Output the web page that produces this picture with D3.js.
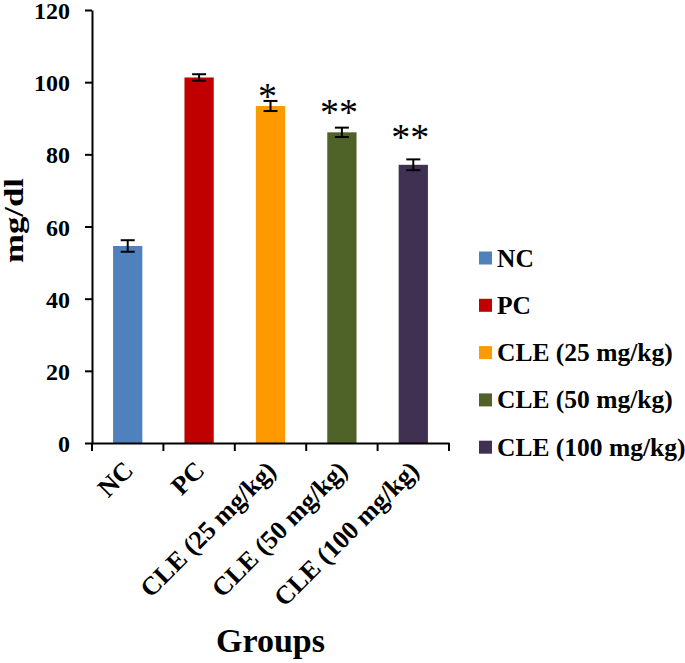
<!DOCTYPE html>
<html><head><meta charset="utf-8">
<script src="https://cdn.jsdelivr.net/npm/d3@7"></script>
<style>
body{margin:0;background:#fff;}
text{font-family:"Liberation Serif","Times New Roman",serif;font-weight:bold;fill:#000;}
</style></head>
<body><svg id="c" width="685" height="663"></svg>
<script>
const categories = ["NC","PC","CLE (25 mg/kg)","CLE (50 mg/kg)","CLE (100 mg/kg)"];
const values = [54.6, 101.3, 93.4, 86.1, 77.1];
const errors = [1.6, 0.9, 1.4, 1.3, 1.5];
const colors = ["#4f81bd","#c00000","#ff9900","#4f6228","#403152"];
const stars = ["","","*","**","**"];
const starValues = [null,null,97.0,92.6,85.6];
const yTicks = [0,20,40,60,80,100,120];

(function(){
const svg = d3.select("#c");
const mLeft=92, mRight=449, mTop=10, mBottom=443;
const x = d3.scaleBand().domain(categories).range([mLeft,mRight]).paddingInner(0.59).paddingOuter(0.295);
const y = d3.scaleLinear().domain([0,120]).range([mBottom,mTop]);

// bars
svg.selectAll("rect.bar").data(categories).join("rect").attr("class","bar")
  .attr("x",d=>x(d)).attr("width",x.bandwidth())
  .attr("y",(d,i)=>y(values[i])).attr("height",(d,i)=>y(0)-y(values[i]))
  .attr("fill",(d,i)=>colors[i]);

// error bars
const capW=14;
categories.forEach((c,i)=>{
  const cx=x(c)+x.bandwidth()/2;
  const g=svg.append("g").attr("stroke","#000").attr("stroke-width",2);
  g.append("line").attr("x1",cx).attr("x2",cx).attr("y1",y(values[i]-errors[i])).attr("y2",y(values[i]+errors[i]));
  g.append("line").attr("x1",cx-capW/2).attr("x2",cx+capW/2).attr("y1",y(values[i]+errors[i])).attr("y2",y(values[i]+errors[i]));
  g.append("line").attr("x1",cx-capW/2).attr("x2",cx+capW/2).attr("y1",y(values[i]-errors[i])).attr("y2",y(values[i]-errors[i]));
  if(stars[i]){
    svg.append("text").attr("x",cx-3).attr("y",y(starValues[i])).attr("dy","0.42em")
      .attr("text-anchor","middle").style("font-weight","normal").style("font-size","38px")
      .text(stars[i]);
  }
});

// y axis
const ya = svg.append("g").attr("transform",`translate(${mLeft},0)`)
  .call(d3.axisLeft(y).tickValues(yTicks).tickSize(7).tickSizeOuter(0).tickPadding(15));
ya.select(".domain").attr("stroke","#000").attr("stroke-width",2);
ya.selectAll(".tick line").attr("stroke","#000").attr("stroke-width",2);
ya.selectAll(".tick text").attr("dy","0.36em").style("font-size","24px").style("font-family","Liberation Serif").style("font-weight","bold");

// x axis
const xa = svg.append("g").attr("transform",`translate(0,${mBottom})`)
  .call(d3.axisBottom(x).tickSize(0).tickSizeOuter(0).tickFormat(""));
xa.select(".domain").attr("stroke","#000").attr("stroke-width",2);
const step = x.step();
const bounds = categories.map(c=>x(c)-(step-x.bandwidth())/2).concat([mRight]);
svg.selectAll("line.xt").data(bounds).join("line").attr("class","xt")
  .attr("x1",d=>d).attr("x2",d=>d).attr("y1",mBottom).attr("y2",mBottom+8)
  .attr("stroke","#000").attr("stroke-width",2);
svg.selectAll("text.xl").data(categories).join("text").attr("class","xl")
  .attr("transform",d=>`translate(${x(d)+x.bandwidth()/2+7},${mBottom+29}) rotate(-45)`)
  .attr("text-anchor","end").style("font-size","26px").text(d=>d);

// axis titles
svg.append("text").attr("x",(mLeft+mRight)/2).attr("y",652).attr("text-anchor","middle")
  .style("font-size","34px").text("Groups");
svg.append("text").attr("transform",`translate(23,${(178+263)/2}) rotate(-90)`)
  .attr("text-anchor","middle").style("font-size","27px")
  .attr("textLength",85).attr("lengthAdjust","spacingAndGlyphs").text("mg/dl");

// legend
const lg = svg.selectAll("g.lg").data(categories).join("g").attr("class","lg")
  .attr("transform",(d,i)=>`translate(479,${258+i*47.3})`);
lg.append("rect").attr("x",0).attr("y",-6.5).attr("width",13).attr("height",13).attr("fill",(d,i)=>colors[i]);
lg.append("text").attr("x",18).attr("y",8.5).style("font-size","25.5px").text(d=>d);
})();
</script></body></html>
